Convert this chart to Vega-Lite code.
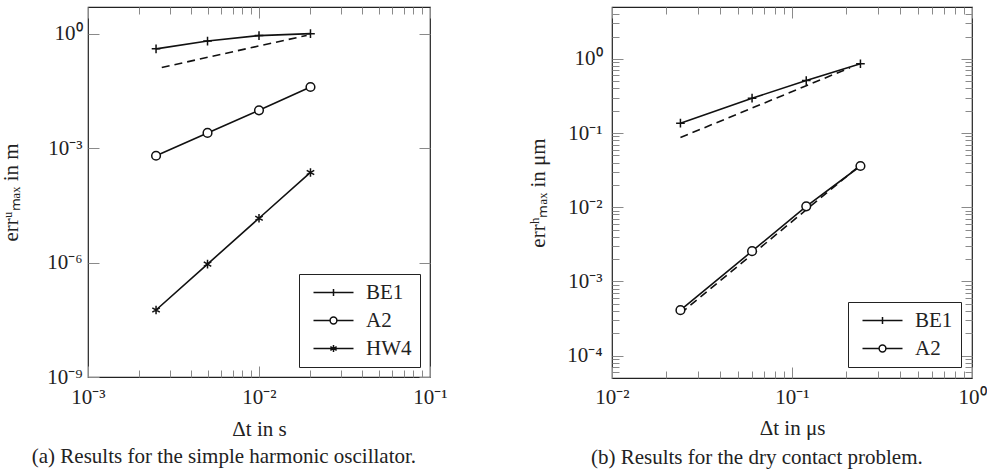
{
  "$schema": "https://vega.github.io/schema/vega-lite/v6.json",
  "padding": {"left": 0, "top": 5, "right": 0, "bottom": 0},
  "config": {
    "font": "Liberation Serif",
    "view": {"stroke": "#222", "strokeWidth": 1.2},
    "axis": {"grid": false, "domain": false, "labelFont": "Liberation Serif", "labelFontSize": 21, "labelColor": "#222", "titleFont": "Liberation Serif", "titleFontSize": 21, "titleFontWeight": "normal", "titleColor": "#222", "tickColor": "#8a8a8a", "tickWidth": 1, "labelFlush": false},
    "legend": {"labelFont": "Liberation Serif", "labelFontSize": 21}
  },
  "datasets": {
    "a": [
      {"dt": 0.0025, "err": 0.40, "s": "BE1"},
      {"dt": 0.005, "err": 0.64, "s": "BE1"},
      {"dt": 0.01, "err": 0.89, "s": "BE1"},
      {"dt": 0.02, "err": 1.0, "s": "BE1"},
      {"dt": 0.0025, "err": 0.00063, "s": "A2"},
      {"dt": 0.005, "err": 0.0025, "s": "A2"},
      {"dt": 0.01, "err": 0.0098, "s": "A2"},
      {"dt": 0.02, "err": 0.04, "s": "A2"},
      {"dt": 0.0025, "err": 5.7e-8, "s": "HW4"},
      {"dt": 0.005, "err": 9.1e-7, "s": "HW4"},
      {"dt": 0.01, "err": 1.45e-5, "s": "HW4"},
      {"dt": 0.02, "err": 2.3e-4, "s": "HW4"}
    ],
    "aref": [
      {"dt": 0.0027, "err": 0.13, "r": "o1"},
      {"dt": 0.019, "err": 0.9, "r": "o1"}
    ],
    "b": [
      {"dt": 0.024, "err": 0.136, "s": "BE1"},
      {"dt": 0.06, "err": 0.295, "s": "BE1"},
      {"dt": 0.12, "err": 0.51, "s": "BE1"},
      {"dt": 0.24, "err": 0.86, "s": "BE1"},
      {"dt": 0.024, "err": 0.00041, "s": "A2"},
      {"dt": 0.06, "err": 0.00256, "s": "A2"},
      {"dt": 0.12, "err": 0.0103, "s": "A2"},
      {"dt": 0.24, "err": 0.036, "s": "A2"}
    ],
    "bref": [
      {"dt": 0.024, "err": 0.087, "r": "o1"},
      {"dt": 0.21, "err": 0.76, "r": "o1"},
      {"dt": 0.024, "err": 0.00037, "r": "o2"},
      {"dt": 0.23, "err": 0.034, "r": "o2"}
    ]
  },
  "spacing": 79,
  "resolve": {"scale": {"shape": "independent"}, "legend": {"shape": "independent"}},
  "hconcat": [
    {
      "width": 342,
      "height": 370,
      "title": {"text": "(a) Results for the simple harmonic oscillator.", "orient": "bottom", "anchor": "middle", "frame": "bounds", "fontSize": 21, "fontWeight": "normal", "font": "Liberation Serif", "offset": 7, "color": "#222"},
      "resolve": {"axis": {"x": "independent", "y": "independent"}},
      "layer": [
        {
          "data": {"name": "aref"},
          "mark": {"type": "line", "strokeDash": [8, 5], "strokeWidth": 1.6, "color": "#111"},
          "encoding": {
            "x": {"field": "dt", "type": "quantitative", "scale": {"type": "log", "domain": [0.001, 0.1], "nice": false},
              "axis": {"orient": "top", "values": [0.001,0.002,0.003,0.004,0.005,0.006,0.007,0.008,0.009,0.01,0.02,0.03,0.04,0.05,0.06,0.07,0.08,0.09,0.1], "labels": false, "title": null,
                "tickSize": {"condition": {"test": "abs(log(datum.value)/LN10 - round(log(datum.value)/LN10)) < 0.001", "value": -11}, "value": -7}}},
            "y": {"field": "err", "type": "quantitative", "scale": {"type": "log", "domain": [1e-9, 5], "nice": false},
              "axis": {"orient": "right", "values": [1e-9, 1e-6, 0.001, 1], "labels": false, "title": null, "tickSize": -11}},
            "detail": {"field": "r"}
          }
        },
        {
          "data": {"name": "a"},
          "mark": {"type": "line", "strokeWidth": 1.6, "color": "#111"},
          "encoding": {
            "x": {"field": "dt", "type": "quantitative", "scale": {"type": "log", "domain": [0.001, 0.1], "nice": false},
              "axis": {"orient": "bottom", "values": [0.001,0.002,0.003,0.004,0.005,0.006,0.007,0.008,0.009,0.01,0.02,0.03,0.04,0.05,0.06,0.07,0.08,0.09,0.1], "labels": false, "title": null,
                "tickSize": {"condition": {"test": "abs(log(datum.value)/LN10 - round(log(datum.value)/LN10)) < 0.001", "value": -11}, "value": -7}}},
            "y": {"field": "err", "type": "quantitative", "scale": {"type": "log", "domain": [1e-9, 5], "nice": false},
              "axis": {"orient": "left", "values": [1e-9, 1e-6, 0.001, 1], "labels": false, "title": null, "tickSize": -11}},
            "detail": {"field": "s"}
          }
        },
        {
          "data": {"name": "a"},
          "mark": {"type": "point", "filled": false, "stroke": "#111", "strokeWidth": 1.5, "size": 64, "opacity": 0},
          "encoding": {
            "x": {"field": "dt", "type": "quantitative", "scale": {"type": "log", "domain": [0.001, 0.1], "nice": false},
              "axis": {"orient": "bottom", "values": [0.001, 0.01, 0.1], "ticks": false, "labelPadding": 9, "title": "Δt in s", "titlePadding": 11,
                "labelFont": "Liberation Serif", "labelFontSize": 21, "titleFont": "Liberation Serif", "titleFontSize": 21, "titleFontWeight": "normal", "labelColor": "#222", "titleColor": "#222",
                "labelExpr": "'10' + replace(replace(replace(replace(replace(replace(replace(replace(replace(replace(replace('' + round(log(datum.value)/LN10), '-', '⁻'), '0', '⁰'), '1', '¹'), '2', '²'), '3', '³'), '4', '⁴'), '5', '⁵'), '6', '⁶'), '7', '⁷'), '8', '⁸'), '9', '⁹')"}},
            "y": {"field": "err", "type": "quantitative", "scale": {"type": "log", "domain": [1e-9, 5], "nice": false},
              "axis": {"orient": "left", "values": [1e-9, 1e-6, 0.001, 1], "ticks": false, "labelPadding": 6, "title": "errᵘₘₐₓ in m", "titlePadding": 25,
                "labelFont": "Liberation Serif", "labelFontSize": 21, "titleFont": "Liberation Serif", "titleFontSize": 21, "titleFontWeight": "normal", "labelColor": "#222", "titleColor": "#222",
                "labelExpr": "'10' + replace(replace(replace(replace(replace(replace(replace(replace(replace(replace(replace('' + round(log(datum.value)/LN10), '-', '⁻'), '0', '⁰'), '1', '¹'), '2', '²'), '3', '³'), '4', '⁴'), '5', '⁵'), '6', '⁶'), '7', '⁷'), '8', '⁸'), '9', '⁹')"}},
            "shape": {"field": "s", "type": "nominal",
              "scale": {"domain": ["BE1", "A2", "HW4"], "range": ["M-1,0L9,0M4,-0.9L4,0.9", "M-1,0L3.15,0M4.85,0L9,0M4.85,0A0.85,0.85 0 1,1 3.15,0A0.85,0.85 0 1,1 4.85,0", "M-1,0L9,0M4,-0.9L4,0.9M3.22,-0.45L4.78,0.45M3.22,0.45L4.78,-0.45"]},
              "legend": {"orient": "bottom-right", "offset": 10, "title": null, "strokeColor": "#222", "fillColor": "white", "padding": 8, "labelFontSize": 21, "labelFont": "Liberation Serif", "labelColor": "#222", "symbolOffset": 0, "labelOffset": 38, "rowPadding": 6, "symbolSize": 64, "symbolStrokeWidth": 1.5, "symbolStrokeColor": "#111", "symbolFillColor": "transparent", "symbolOpacity": 1}
            }
          }
        },
        {
          "data": {"name": "a"},
          "transform": [{"filter": {"field": "s", "equal": "BE1"}}],
          "mark": {"type": "point", "shape": "M-1,0L1,0M0,-1L0,1", "filled": false, "stroke": "#111", "strokeWidth": 1.5, "size": 75, "opacity": 1},
          "encoding": {
            "x": {"field": "dt", "type": "quantitative", "scale": {"type": "log", "domain": [0.001, 0.1], "nice": false}, "axis": null},
            "y": {"field": "err", "type": "quantitative", "scale": {"type": "log", "domain": [1e-9, 5], "nice": false}, "axis": null}
          }
        },
        {
          "data": {"name": "a"},
          "transform": [{"filter": {"field": "s", "equal": "A2"}}],
          "mark": {"type": "point", "shape": "circle", "filled": true, "fill": "white", "stroke": "#111", "strokeWidth": 1.5, "size": 75, "opacity": 1},
          "encoding": {
            "x": {"field": "dt", "type": "quantitative", "scale": {"type": "log", "domain": [0.001, 0.1], "nice": false}, "axis": null},
            "y": {"field": "err", "type": "quantitative", "scale": {"type": "log", "domain": [1e-9, 5], "nice": false}, "axis": null}
          }
        },
        {
          "data": {"name": "a"},
          "transform": [{"filter": {"field": "s", "equal": "HW4"}}],
          "mark": {"type": "point", "shape": "M0,-1L0,1M-0.866,-0.5L0.866,0.5M-0.866,0.5L0.866,-0.5", "filled": false, "stroke": "#111", "strokeWidth": 1.5, "size": 75, "opacity": 1},
          "encoding": {
            "x": {"field": "dt", "type": "quantitative", "scale": {"type": "log", "domain": [0.001, 0.1], "nice": false}, "axis": null},
            "y": {"field": "err", "type": "quantitative", "scale": {"type": "log", "domain": [1e-9, 5], "nice": false}, "axis": null}
          }
        }
      ]
    },
    {
      "width": 360,
      "height": 371,
      "title": {"text": "(b) Results for the dry contact problem.", "orient": "bottom", "anchor": "middle", "frame": "bounds", "fontSize": 21, "fontWeight": "normal", "font": "Liberation Serif", "offset": 9, "color": "#222"},
      "resolve": {"axis": {"x": "independent", "y": "independent"}},
      "layer": [
        {
          "data": {"name": "bref"},
          "mark": {"type": "line", "strokeDash": [8, 5], "strokeWidth": 1.6, "color": "#111"},
          "encoding": {
            "x": {"field": "dt", "type": "quantitative", "scale": {"type": "log", "domain": [0.01, 1], "nice": false},
              "axis": {"orient": "top", "values": [0.01,0.02,0.03,0.04,0.05,0.06,0.07,0.08,0.09,0.1,0.2,0.3,0.4,0.5,0.6,0.7,0.8,0.9,1], "labels": false, "title": null,
                "tickSize": {"condition": {"test": "abs(log(datum.value)/LN10 - round(log(datum.value)/LN10)) < 0.001", "value": -11}, "value": -7}}},
            "y": {"field": "err", "type": "quantitative", "scale": {"type": "log", "domain": [5e-5, 5], "nice": false},
              "axis": {"orient": "right", "values": [0.00006,0.00007,0.00008,0.00009,0.0001,0.0002,0.0003,0.0004,0.0005,0.0006,0.0007,0.0008,0.0009,0.001,0.002,0.003,0.004,0.005,0.006,0.007,0.008,0.009,0.01,0.02,0.03,0.04,0.05,0.06,0.07,0.08,0.09,0.1,0.2,0.3,0.4,0.5,0.6,0.7,0.8,0.9,1,2,3,4], "labels": false, "title": null,
                "tickSize": {"condition": {"test": "abs(log(datum.value)/LN10 - round(log(datum.value)/LN10)) < 0.001", "value": -11}, "value": -7}}},
            "detail": {"field": "r"}
          }
        },
        {
          "data": {"name": "b"},
          "mark": {"type": "line", "strokeWidth": 1.6, "color": "#111"},
          "encoding": {
            "x": {"field": "dt", "type": "quantitative", "scale": {"type": "log", "domain": [0.01, 1], "nice": false},
              "axis": {"orient": "bottom", "values": [0.01,0.02,0.03,0.04,0.05,0.06,0.07,0.08,0.09,0.1,0.2,0.3,0.4,0.5,0.6,0.7,0.8,0.9,1], "labels": false, "title": null,
                "tickSize": {"condition": {"test": "abs(log(datum.value)/LN10 - round(log(datum.value)/LN10)) < 0.001", "value": -11}, "value": -7}}},
            "y": {"field": "err", "type": "quantitative", "scale": {"type": "log", "domain": [5e-5, 5], "nice": false},
              "axis": {"orient": "left", "values": [0.00006,0.00007,0.00008,0.00009,0.0001,0.0002,0.0003,0.0004,0.0005,0.0006,0.0007,0.0008,0.0009,0.001,0.002,0.003,0.004,0.005,0.006,0.007,0.008,0.009,0.01,0.02,0.03,0.04,0.05,0.06,0.07,0.08,0.09,0.1,0.2,0.3,0.4,0.5,0.6,0.7,0.8,0.9,1,2,3,4], "labels": false, "title": null,
                "tickSize": {"condition": {"test": "abs(log(datum.value)/LN10 - round(log(datum.value)/LN10)) < 0.001", "value": -11}, "value": -7}}},
            "detail": {"field": "s"}
          }
        },
        {
          "data": {"name": "b"},
          "mark": {"type": "point", "filled": false, "stroke": "#111", "strokeWidth": 1.5, "size": 64, "opacity": 0},
          "encoding": {
            "x": {"field": "dt", "type": "quantitative", "scale": {"type": "log", "domain": [0.01, 1], "nice": false},
              "axis": {"orient": "bottom", "values": [0.01, 0.1, 1], "ticks": false, "labelPadding": 8, "title": "Δt in μs", "titlePadding": 10,
                "labelFont": "Liberation Serif", "labelFontSize": 21, "titleFont": "Liberation Serif", "titleFontSize": 21, "titleFontWeight": "normal", "labelColor": "#222", "titleColor": "#222",
                "labelExpr": "'10' + replace(replace(replace(replace(replace(replace(replace(replace(replace(replace(replace('' + round(log(datum.value)/LN10), '-', '⁻'), '0', '⁰'), '1', '¹'), '2', '²'), '3', '³'), '4', '⁴'), '5', '⁵'), '6', '⁶'), '7', '⁷'), '8', '⁸'), '9', '⁹')"}},
            "y": {"field": "err", "type": "quantitative", "scale": {"type": "log", "domain": [5e-5, 5], "nice": false},
              "axis": {"orient": "left", "values": [0.0001, 0.001, 0.01, 0.1, 1], "ticks": false, "labelPadding": 10, "title": "errʰₘₐₓ in μm", "titlePadding": 18,
                "labelFont": "Liberation Serif", "labelFontSize": 21, "titleFont": "Liberation Serif", "titleFontSize": 21, "titleFontWeight": "normal", "labelColor": "#222", "titleColor": "#222",
                "labelExpr": "'10' + replace(replace(replace(replace(replace(replace(replace(replace(replace(replace(replace('' + round(log(datum.value)/LN10), '-', '⁻'), '0', '⁰'), '1', '¹'), '2', '²'), '3', '³'), '4', '⁴'), '5', '⁵'), '6', '⁶'), '7', '⁷'), '8', '⁸'), '9', '⁹')"}},
            "shape": {"field": "s", "type": "nominal",
              "scale": {"domain": ["BE1", "A2"], "range": ["M-1,0L9,0M4,-0.9L4,0.9", "M-1,0L3.15,0M4.85,0L9,0M4.85,0A0.85,0.85 0 1,1 3.15,0A0.85,0.85 0 1,1 4.85,0"]},
              "legend": {"orient": "bottom-right", "offset": 11, "title": null, "strokeColor": "#222", "fillColor": "white", "padding": 8, "labelFontSize": 21, "labelFont": "Liberation Serif", "labelColor": "#222", "symbolOffset": 0, "labelOffset": 38, "rowPadding": 6, "symbolSize": 64, "symbolStrokeWidth": 1.5, "symbolStrokeColor": "#111", "symbolFillColor": "transparent", "symbolOpacity": 1}
            }
          }
        },
        {
          "data": {"name": "b"},
          "transform": [{"filter": {"field": "s", "equal": "BE1"}}],
          "mark": {"type": "point", "shape": "M-1,0L1,0M0,-1L0,1", "filled": false, "stroke": "#111", "strokeWidth": 1.5, "size": 75, "opacity": 1},
          "encoding": {
            "x": {"field": "dt", "type": "quantitative", "scale": {"type": "log", "domain": [0.01, 1], "nice": false}, "axis": null},
            "y": {"field": "err", "type": "quantitative", "scale": {"type": "log", "domain": [5e-5, 5], "nice": false}, "axis": null}
          }
        },
        {
          "data": {"name": "b"},
          "transform": [{"filter": {"field": "s", "equal": "A2"}}],
          "mark": {"type": "point", "shape": "circle", "filled": true, "fill": "white", "stroke": "#111", "strokeWidth": 1.5, "size": 75, "opacity": 1},
          "encoding": {
            "x": {"field": "dt", "type": "quantitative", "scale": {"type": "log", "domain": [0.01, 1], "nice": false}, "axis": null},
            "y": {"field": "err", "type": "quantitative", "scale": {"type": "log", "domain": [5e-5, 5], "nice": false}, "axis": null}
          }
        }
      ]
    }
  ]
}
